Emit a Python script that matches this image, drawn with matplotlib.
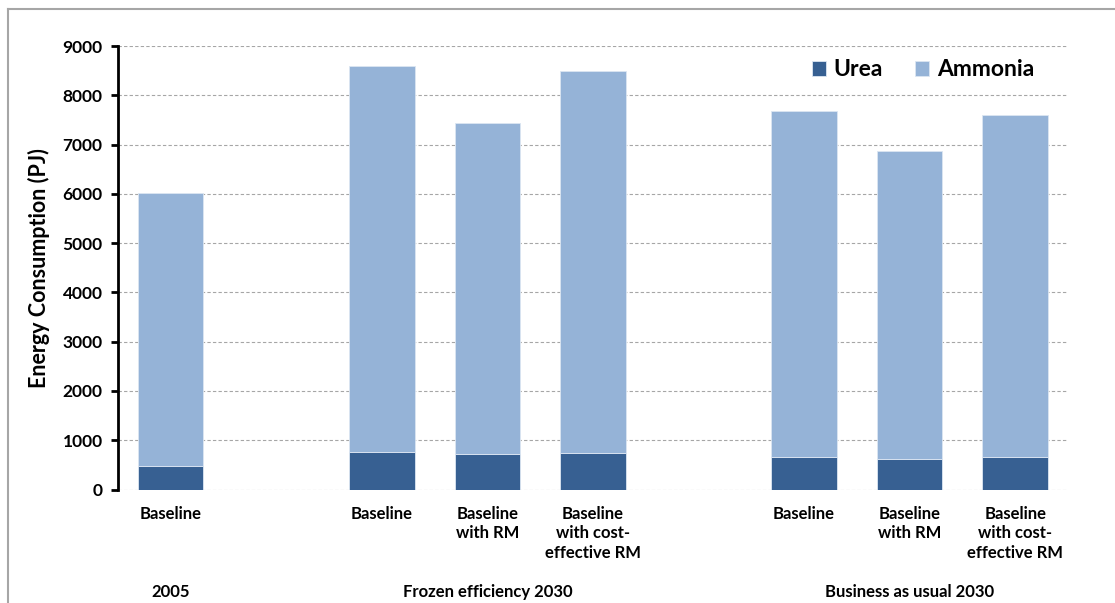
import matplotlib
matplotlib.use('Agg')
import matplotlib.pyplot as plt
from matplotlib.lines import Line2D
import numpy as np

# bar labels (index positions leave gaps between scenario groups)
positions = [0, 2, 3, 4, 6, 7, 8]
bar_labels = ['Baseline',
              'Baseline', 'Baseline\nwith RM', 'Baseline\nwith cost-\neffective RM',
              'Baseline', 'Baseline\nwith RM', 'Baseline\nwith cost-\neffective RM']
group_labels = ['2005', 'Frozen efficiency 2030', 'Business as usual 2030']
group_centers = [0, 3, 7]

urea = [480, 760, 715, 745, 655, 620, 650]
total = [6020, 8600, 7430, 8490, 7680, 6860, 7610]
ammonia = [t - u for t, u in zip(total, urea)]

urea_color = '#376092'
ammonia_color = '#95B3D7'

plt.rcParams['font.family'] = ['Lato', 'DejaVu Sans']
plt.rcParams['font.weight'] = 'bold'

fig = plt.figure(figsize=(11.15, 6.03), dpi=100)
ax = fig.add_axes([0.1058, 0.1882, 0.8520, 0.7355])

ax.bar(positions, urea, width=0.62, color=urea_color, edgecolor='#dce6f2', linewidth=0.6,
       label='Urea', zorder=3)
ax.bar(positions, ammonia, width=0.62, bottom=urea, color=ammonia_color, edgecolor='#dce6f2',
       linewidth=0.6, label='Ammonia', zorder=3)

ax.set_xlim(-0.5, 8.5)
ax.set_ylim(0, 9000)
ax.set_yticks(np.arange(0, 9001, 1000))
ax.yaxis.grid(True, color='#a6a6a6', linestyle=(0, (3, 2)), linewidth=0.8, zorder=0)
ax.set_axisbelow(True)

for s in ['top', 'right', 'bottom']:
    ax.spines[s].set_visible(False)
ax.spines['left'].set_linewidth(2)
ax.tick_params(axis='y', direction='out', length=5, width=2, labelsize=12.5, pad=6)
ax.tick_params(axis='x', length=0, labelsize=12, pad=12)
for lbl in ax.get_yticklabels():
    lbl.set_fontweight('bold')

ax.set_xticks(positions)
ax.set_xticklabels(bar_labels, fontweight='bold', linespacing=1.25, va='top')

# group captions below the bar labels
for c, g in zip(group_centers, group_labels):
    ax.text(c, -0.23, g, transform=ax.get_xaxis_transform(), ha='center', va='center',
            fontsize=12, fontweight='bold')

ax.set_ylabel('Energy Consumption (PJ)', fontsize=15.5, fontweight='bold', labelpad=9)

leg = ax.legend(loc='center right', bbox_to_anchor=(0.986, 0.946), ncol=2, frameon=False,
                prop={'size': 16.5, 'weight': 'bold'}, handlelength=0.6, handleheight=0.6,
                handletextpad=0.35, columnspacing=1.4)

# grey frame lines of the original picture
fig.add_artist(Line2D([8 / 1115, 8 / 1115], [0, 1 - 9 / 603], transform=fig.transFigure,
                      color='#a6a6a6', linewidth=1.5))
fig.add_artist(Line2D([8 / 1115, 1], [1 - 9 / 603, 1 - 9 / 603], transform=fig.transFigure,
                      color='#a6a6a6', linewidth=1.5))

fig.savefig('out.png', dpi=100)
